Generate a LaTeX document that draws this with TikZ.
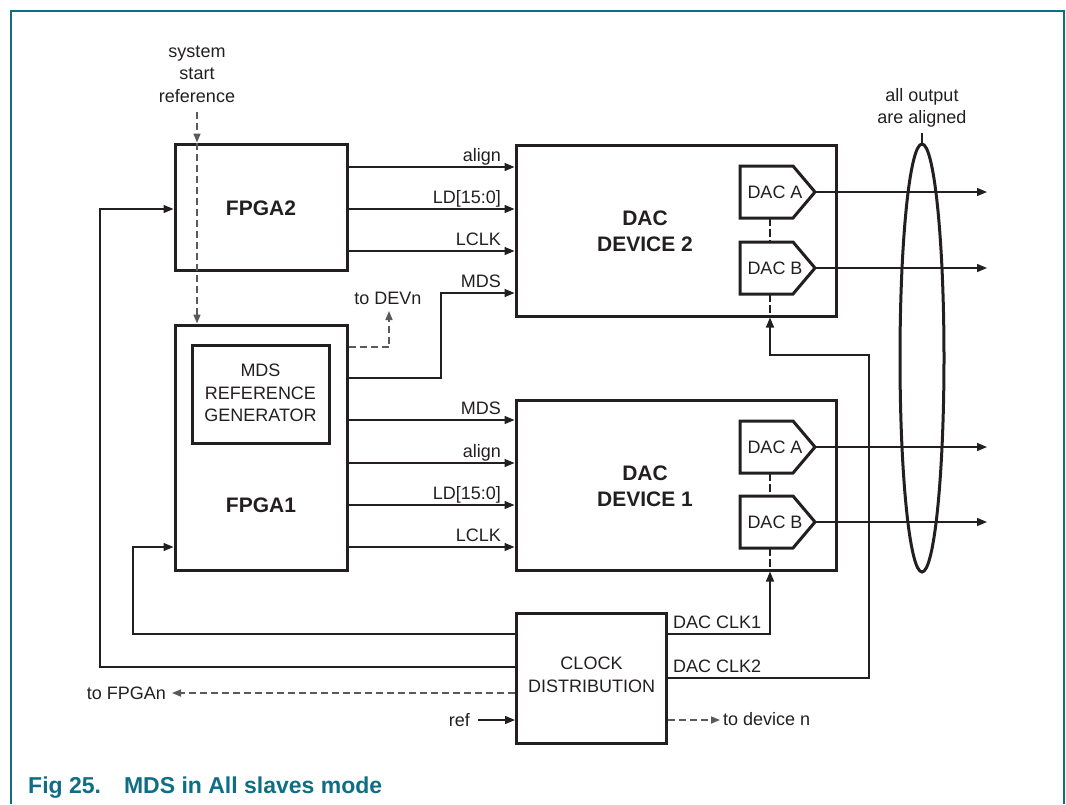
\documentclass[tikz,border=0pt]{standalone}
\usepackage{fontspec}
\setmainfont{Liberation Sans}
\usetikzlibrary{arrows.meta}
\definecolor{ink}{HTML}{231F20}
\definecolor{dgray}{HTML}{5A5A5C}
\definecolor{teal1}{HTML}{0F6E86}
\newcommand\fsn{\fontsize{18}{22.5}\selectfont}
\newcommand\fsb{\fontsize{21}{26}\selectfont\bfseries}
\tikzset{
  x=1pt, y=-1pt,
  boxnode/.style={draw=ink, line width=3pt, rectangle, inner sep=0pt},
  boxline/.style={draw=ink, line width=3pt, line join=miter},
  sig/.style={draw=ink, line width=1.4pt, -{Triangle[length=10pt,width=8pt]}},
  dsh/.style={draw=dgray, line width=1.6pt, dash pattern=on 7pt off 4pt},
  dsharr/.style={dsh, -{Triangle[length=9pt,width=7pt]}},
  ddot/.style={draw=ink, line width=1.4pt, dash pattern=on 8pt off 3pt},
  lbl/.style={font=\fsn, text=ink, inner sep=0pt, anchor=base east},
  lblw/.style={font=\fsn, text=ink, inner sep=0pt, anchor=base west},
  txt/.style={font=\fsn, text=ink, inner sep=0pt, align=center},
  btxt/.style={font=\fsb, text=ink, inner sep=0pt, align=center},
}
\newcommand\dacunit[3]{%
  \draw[boxline] (740,#2-26) -- (793,#2-26) -- (815,#2) -- (793,#2+26) -- (740,#2+26) -- cycle;
  \node[txt] (#1) at (775,#2) {#3};
  \coordinate (#1tip) at (815,#2);
  \coordinate (#1top) at (770,#2-26);
  \coordinate (#1bot) at (770,#2+26);
}
\begin{document}
\begin{tikzpicture}
\useasboundingbox (0,0) rectangle (1066,804);
% frame
\draw[teal1, line width=1.5pt] (11,804) -- (11,11) -- (1064,11) -- (1064,804);

% main blocks
\node[boxnode, minimum width=172pt, minimum height=126pt] (fpga2) at (261,207) {};
\node[btxt] at (261,208) {FPGA2};
\node[boxnode, minimum width=172pt, minimum height=245pt] (fpga1) at (261,447.5) {};
\node[btxt] at (261,505) {FPGA1};
\node[boxnode, minimum width=137pt, minimum height=98pt] (mdsgen) at (260.5,394) {};
\node[txt] at (260.5,393) {MDS\\REFERENCE\\GENERATOR};
\node[boxnode, minimum width=320pt, minimum height=171pt] (dac2) at (676,230.5) {};
\node[btxt] at (645,231) {DAC\\DEVICE 2};
\node[boxnode, minimum width=320pt, minimum height=170pt] (dac1) at (676,485) {};
\node[btxt] at (645,486) {DAC\\DEVICE 1};
\node[boxnode, minimum width=150pt, minimum height=130pt] (clk) at (591.5,678) {};
\node[txt] at (591.5,675) {CLOCK\\DISTRIBUTION};

% DAC units
\dacunit{d2a}{192}{DAC A}
\dacunit{d2b}{268}{DAC B}
\dacunit{d1a}{447}{DAC A}
\dacunit{d1b}{522}{DAC B}
\draw[ddot] (d2abot) -- (d2btop);
\draw[ddot] (d2bbot) -- (d2bbot |- dac2.south);
\draw[ddot] (d1abot) -- (d1btop);
\draw[ddot] (d1bbot) -- (d1bbot |- dac1.south);

% FPGA2 -> DAC2
\draw[sig] (fpga2.east |- 0,167) -- (dac2.west |- 0,167);
\node[lbl] at (501,161) {align};
\draw[sig] (fpga2.east |- 0,209) -- (dac2.west |- 0,209);
\node[lbl] at (501,203) {LD[15:0]};
\draw[sig] (fpga2.east |- 0,251) -- (dac2.west |- 0,251);
\node[lbl] at (501,245) {LCLK};
% MDS from FPGA1 to DAC2
\draw[sig] (fpga1.east |- 0,378) -- (441,378) -- (441,293) -- (dac2.west |- 0,293);
\node[lbl] at (501,287) {MDS};
% to DEVn
\coordinate (devn) at (389,311);
\draw[dsharr] (fpga1.east |- 0,347) -- (devn |- 0,347) -- (devn);
\node[txt, anchor=base] at (388,304) {to DEVn};

% FPGA1 -> DAC1
\draw[sig] (fpga1.east |- 0,420) -- (dac1.west |- 0,420);
\node[lbl] at (501,414) {MDS};
\draw[sig] (fpga1.east |- 0,463) -- (dac1.west |- 0,463);
\node[lbl] at (501,457) {align};
\draw[sig] (fpga1.east |- 0,505) -- (dac1.west |- 0,505);
\node[lbl] at (501,499) {LD[15:0]};
\draw[sig] (fpga1.east |- 0,547) -- (dac1.west |- 0,547);
\node[lbl] at (501,541) {LCLK};

% system start reference
\node[txt] (ssr) at (197,74) {system\\start\\reference};
\draw[dsharr] (197,112) -- (ssr.south |- fpga2.north);
\draw[dsharr] (ssr.south |- fpga2.north) -- (ssr.south |- fpga1.north);

% outputs
\coordinate (o1) at (987,192);
\coordinate (o2) at (987,268);
\coordinate (o3) at (987,447);
\coordinate (o4) at (987,522);
\draw[sig] (d2atip) -- (o1);
\draw[sig] (d2btip) -- (o2);
\draw[sig] (d1atip) -- (o3);
\draw[sig] (d1btip) -- (o4);

% ellipse
\draw[ink, line width=3pt] (922,358) ellipse [x radius=22, y radius=214];
\draw[ink, line width=1.4pt] (922,133) -- (922,144);
\node[txt] (allout) at (922,108) {all output\\are aligned};

% clock distribution outputs
\draw[sig] (clk.east |- 0,634) -- (770,634) -- (d1bbot |- dac1.south);
\node[lblw] at (673,628) {DAC CLK1};
\draw[sig] (clk.east |- 0,678) -- (869,678) -- (869,355) -- (770,355) -- (d2bbot |- dac2.south);
\node[lblw] at (673,672) {DAC CLK2};
\coordinate (devn2) at (720,720);
\draw[dsharr] (clk.east |- devn2) -- (devn2);
\node[lblw] at (723,725) {to device n};

% clock to FPGAs
\draw[sig] (clk.west |- 0,634) -- (133,634) -- (133,547) -- (fpga1.west |- 0,547);
\draw[sig] (clk.west |- 0,667) -- (100,667) -- (100,209) -- (fpga2.west |- 0,209);
\coordinate (fpgan) at (172,693);
\draw[dsharr] (clk.west |- fpgan) -- (fpgan);
\node[lbl] at (166,699) {to FPGAn};
\coordinate (refin) at (478,720);
\draw[sig] (refin) -- (clk.west |- refin);
\node[lbl] at (470,726) {ref};

% caption
\node[anchor=base west, inner sep=0pt, text=teal1, font=\fontsize{23}{28}\selectfont\bfseries] (cap) at (28,793) {Fig 25.\hspace*{23pt}MDS in All slaves mode};
\end{tikzpicture}
\end{document}
